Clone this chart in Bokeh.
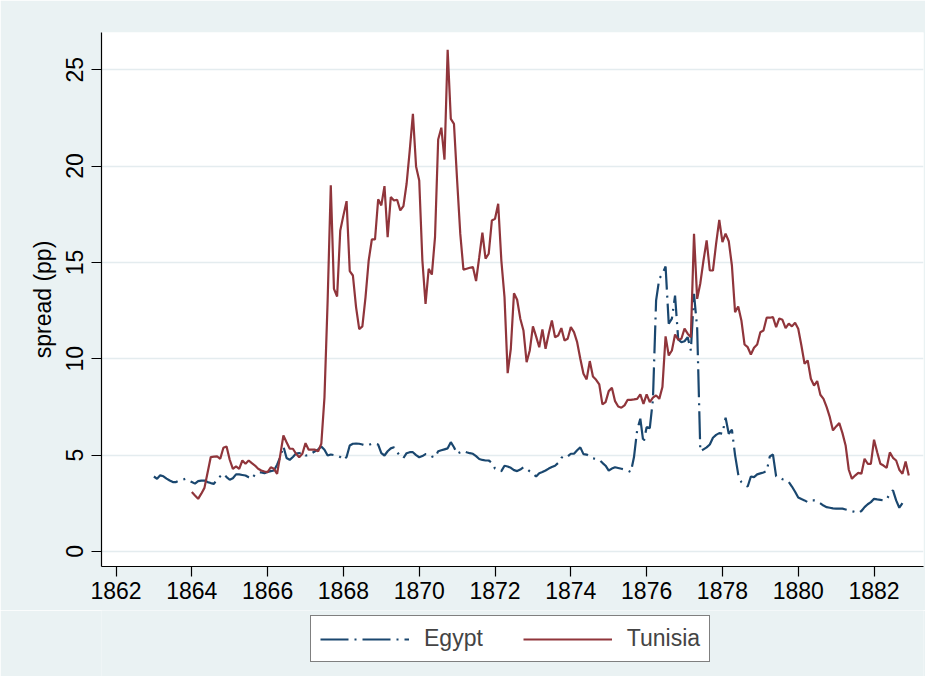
import numpy as np
from bokeh.plotting import figure
from bokeh.layouts import column
from bokeh.models import Range1d, FixedTicker, Legend, LegendItem
from bokeh.embed import file_html
from bokeh.resources import INLINE

# ---- data (monthly spreads, percentage points) ----
egypt_start = 1863.0
egypt_values = [
    # 1863
    3.89, 3.77, 3.95, 3.9, 3.78, 3.68, 3.6, 3.6, 3.68, 3.72, 3.77, 3.68,
    # 1864
    3.6, 3.52, 3.65, 3.68, 3.68, 3.6, 3.55, 3.51, 3.75, 3.9, 4.03, 3.86,
    # 1865
    3.72, 3.8, 4.0, 4.0, 3.97, 3.94, 3.85, 3.77, 4.0, 4.1, 4.1, 4.06,
    # 1866
    4.12, 4.17, 4.2, 4.5, 4.9, 5.45, 4.85, 4.75, 4.9, 5.08, 5.1, 5.15,
    # 1867
    4.98, 5.0, 5.1, 5.2, 5.3, 5.45, 5.28, 4.98, 5.03, 5.0, 4.98, 4.9,
    # 1868
    4.75, 4.9, 5.5, 5.59, 5.6, 5.59, 5.55, 5.5, 5.52, 5.59, 5.6, 5.55,
    # 1869
    5.1, 4.98, 5.2, 5.35, 5.41, 5.15, 4.95, 4.85, 5.1, 5.15, 5.15, 5.0,
    # 1870
    4.89, 4.95, 5.05, 5.05, 4.93, 4.89, 5.2, 5.25, 5.3, 5.35, 5.67, 5.41,
    # 1871
    5.07, 5.15, 5.22, 5.15, 5.1, 5.07, 4.95, 4.8, 4.75, 4.72, 4.72, 4.6,
    # 1872
    4.3, 4.2, 4.17, 4.45, 4.41, 4.34, 4.22, 4.17, 4.25, 4.37, 4.3, 4.15,
    # 1873
    4.03, 3.89, 4.06, 4.12, 4.2, 4.3, 4.38, 4.45, 4.6, 4.86, 4.98, 4.93,
    # 1874
    5.07, 5.07, 5.25, 5.4, 5.05, 5.03, 4.92, 4.83, 4.8, 4.76, 4.6, 4.45,
    # 1875
    4.2, 4.3, 4.37, 4.33, 4.29, 4.25, 4.2, 4.12, 4.9, 6.3, 6.89, 5.62,
    # 1876
    6.45, 6.4, 7.9, 13.03, 14.15, 14.41, 14.79, 11.82, 12.08, 13.28, 11.0, 10.86,
    # 1877
    10.91, 11.12, 10.43, 13.37, 11.6, 5.2, 5.3, 5.4, 5.55, 5.9, 6.05, 6.14,
    # 1878
    6.11, 6.94, 6.11, 6.32, 5.0, 4.0, 3.6, 3.45, 3.37, 3.89, 3.86, 4.0,
    # 1879
    4.05, 4.1, 4.17, 4.93, 5.03, 3.9, 3.84, 3.75, 3.7, 3.6, 3.37, 3.1,
    # 1880
    2.8, 2.72, 2.65, 2.56, 2.65, 2.65, 2.6, 2.5, 2.38, 2.3, 2.27, 2.24,
    # 1881
    2.22, 2.22, 2.22, 2.18, 2.14, 2.09, 2.05, 2.0, 2.1, 2.3, 2.45, 2.56,
    # 1882
    2.73, 2.7, 2.68, 2.65, 2.7, 3.0, 3.17, 2.65, 2.27, 2.51,
]

tunisia_start = 1864.0
tunisia_values = [
    # 1864
    3.08, 2.9, 2.73, 3.0, 3.3, 4.1, 4.9, 4.92, 4.93, 4.81, 5.38, 5.45,
    # 1865
    4.76, 4.29, 4.41, 4.29, 4.72, 4.55, 4.72, 4.58, 4.46, 4.29, 4.2, 4.15,
    # 1866
    4.12, 4.37, 4.29, 4.03, 5.0, 6.02, 5.67, 5.33, 5.33, 5.07, 4.89, 5.07,
    # 1867
    5.62, 5.28, 5.28, 5.28, 5.2, 5.59, 8.0, 13.0, 19.0, 13.63, 13.23, 16.66,
    # 1868
    17.44, 18.18, 14.55, 14.32, 12.68, 11.54, 11.68, 13.2, 15.1, 16.19, 16.19, 18.27,
    # 1869
    17.96, 18.96, 16.31, 18.39, 18.21, 18.25, 17.7, 17.92, 19.08, 20.81, 22.71, 19.98,
    # 1870
    19.25, 15.1, 12.85, 14.67, 14.37, 16.31, 21.38, 21.99, 20.33, 26.03, 22.45, 22.19,
    # 1871
    19.25, 16.48, 14.62, 14.67, 14.72, 14.76, 14.03, 15.27, 16.54, 15.19, 15.45, 17.18,
    # 1872
    17.26, 18.04, 15.1, 13.2, 9.25, 10.52, 13.4, 13.06, 12.08, 11.47, 9.82, 10.43,
    # 1873
    11.68, 11.16, 10.6, 11.52, 10.52, 11.3, 11.99, 11.12, 11.21, 11.59, 10.95, 11.04,
    # 1874
    11.64, 11.38, 10.86, 10.0, 9.22, 8.93, 9.88, 9.08, 8.91, 8.67, 7.63, 7.75,
    # 1875
    8.32, 8.49, 7.8, 7.52, 7.46, 7.58, 7.87, 7.87, 7.89, 7.92, 8.15, 7.66,
    # 1876
    8.15, 7.75, 7.98, 8.1, 7.92, 8.53, 11.16, 10.17, 10.43, 11.26, 10.99, 11.04,
    # 1877
    11.56, 11.3, 11.12, 16.49, 13.11, 13.92, 15.1, 16.14, 14.58, 14.58, 15.97, 17.21,
    # 1878
    16.05, 16.49, 16.1, 14.84, 12.42, 12.71, 11.99, 10.74, 10.6, 10.22, 10.57, 10.74,
    # 1879
    11.38, 11.47, 12.13, 12.13, 12.16, 11.64, 12.09, 12.02, 11.59, 11.82, 11.68, 11.87,
    # 1880
    11.56, 10.69, 9.74, 9.91, 8.96, 8.61, 8.84, 8.13, 7.92, 7.49, 6.97, 6.28,
    # 1881
    6.49, 6.66, 6.14, 5.5, 4.24, 3.77, 3.94, 4.08, 4.03, 4.81, 4.55, 4.55,
    # 1882
    5.8, 5.15, 4.55, 4.46, 4.34, 5.14, 4.86, 4.72, 4.24, 4.03, 4.67, 3.94,
]

x_ticks = [1862, 1864, 1866, 1868, 1870, 1872, 1874, 1876, 1878, 1880, 1882]
y_ticks = [0, 5, 10, 15, 20, 25]
series_names = ["Egypt", "Tunisia"]
y_label = "spread (pp)"

egypt_x = [egypt_start + i / 12 for i in range(len(egypt_values))]
tunisia_x = [tunisia_start + i / 12 for i in range(len(tunisia_values))]

# ---- styling ----
BG = "#EAF2F3"
NAVY = "#1A476F"
MAROON = "#90353B"
FONT = "Liberation Sans"
FS = "23px"
EGYPT_STYLE = dict(line_color=NAVY, line_width=2.2, line_dash="28 6 2 6")
TUNISIA_STYLE = dict(line_color=MAROON, line_width=2.2)

# ---- main plot ----
p = figure(width=925, height=610, output_backend="svg", toolbar_location=None,
           x_range=Range1d(1861.617, 1883.305), y_range=Range1d(-0.78, 26.93),
           min_border_left=101, min_border_right=2, min_border_top=32,
           min_border_bottom=44)
p.background_fill_color = "white"
p.border_fill_color = BG
p.outline_line_color = None

p.xgrid.visible = False
p.ygrid.grid_line_color = "#E4ECEF"
p.ygrid.grid_line_width = 1.6
p.ygrid.ticker = FixedTicker(ticks=y_ticks)

for ax in (p.xaxis[0], p.yaxis[0]):
    ax.axis_line_color = "black"
    ax.axis_line_width = 1.2
    ax.major_tick_line_color = "black"
    ax.major_tick_line_width = 1.2
    ax.major_tick_out = 10
    ax.major_tick_in = 0
    ax.minor_tick_line_color = None
    ax.major_label_text_font = FONT
    ax.major_label_text_font_size = FS
    ax.major_label_text_color = "black"
    ax.axis_label_text_font = FONT
    ax.axis_label_text_font_size = FS
    ax.axis_label_text_font_style = "normal"
    ax.axis_label_text_color = "black"

p.xaxis.ticker = FixedTicker(ticks=x_ticks)
p.xaxis.major_label_standoff = 5
p.yaxis.ticker = FixedTicker(ticks=y_ticks)
p.yaxis.major_label_orientation = "vertical"
p.yaxis.major_label_standoff = 8
p.yaxis.axis_label = y_label
p.yaxis.axis_label_standoff = 8

p.line(egypt_x, egypt_values, **EGYPT_STYLE)
p.line(tunisia_x, tunisia_values, **TUNISIA_STYLE)

# ---- legend strip (same series styles; data lies outside its view) ----
lg = figure(width=925, height=66, output_backend="svg", toolbar_location=None,
            x_axis_location=None, y_axis_location=None,
            x_range=Range1d(1861.617, 1883.305), y_range=Range1d(100, 101),
            min_border_left=0, min_border_right=0, min_border_top=0,
            min_border_bottom=0)
lg.background_fill_color = BG
lg.border_fill_color = BG
lg.outline_line_color = None
lg.grid.visible = False
le = lg.line(egypt_x, egypt_values, **EGYPT_STYLE)
lt = lg.line(tunisia_x, tunisia_values, **TUNISIA_STYLE)

legend = Legend(items=[LegendItem(label=series_names[0], renderers=[le]),
                       LegendItem(label=series_names[1], renderers=[lt])],
                orientation="horizontal", location=(209, 14),
                glyph_width=89, glyph_height=20, label_standoff=15, spacing=40,
                padding=9, margin=0,
                label_text_font=FONT, label_text_font_size=FS,
                border_line_color="black", border_line_width=1.2,
                background_fill_color="white", background_fill_alpha=1.0)
lg.add_layout(legend, "center")

layout = column(p, lg, spacing=0)
open("out.html", "w").write(file_html(layout, INLINE))
